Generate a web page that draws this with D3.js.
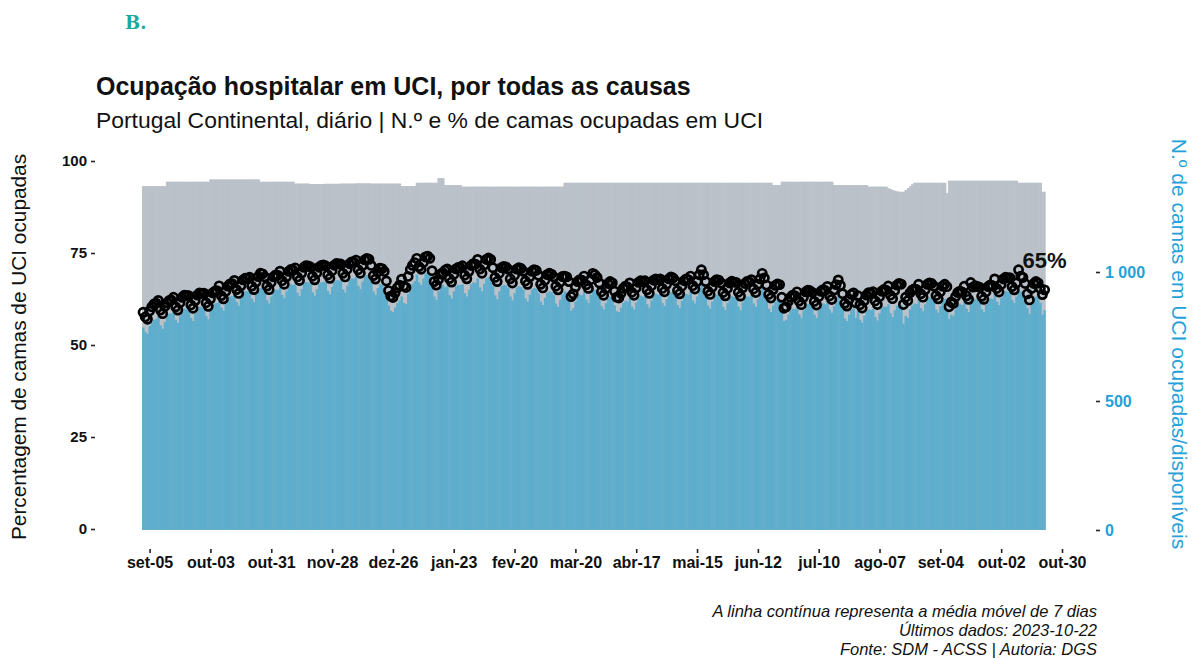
<!DOCTYPE html>
<html>
<head>
<meta charset="utf-8">
<title>Ocupação hospitalar em UCI</title>
<script src="https://d3js.org/d3.v7.min.js"></script>
<style>
  body { margin: 0; background: #fff; }
  svg { display: block; font-family: "Liberation Sans", Arial, sans-serif; }
</style>
</head>
<body>
<svg width="1192" height="659"></svg>
<script>
// dias com dados (um valor por dia, de 2022-09-02 a 2023-10-22)
const dataInicio = "2022-09-02";
const dataFim = "2023-10-22";

// n.º de camas UCI ocupadas (barras azuis), linhas de 7 dias a começar a sexta
const camasOcupadas = [
  785, 768, 760, 790, 805, 815, 818,
  828, 793, 780, 806, 830, 838, 840,
  850, 815, 803, 830, 850, 858, 857,
  856, 822, 810, 838, 858, 866, 864,
  865, 830, 817, 850, 872, 878, 880,
  898, 862, 850, 877, 897, 905, 906,
  918, 884, 870, 898, 920, 926, 925,
  930, 897, 884, 912, 932, 938, 936,
  925, 891, 878, 905, 925, 932, 931,
  946, 911, 898, 925, 945, 952, 950,
  953, 920, 907, 934, 955, 961, 960,
  955, 921, 908, 933, 954, 960, 962,
  960, 927, 914, 942, 962, 968, 967,
  967, 933, 920, 948, 968, 975, 974,
  982, 947, 934, 962, 983, 988, 985,
  962, 925, 912, 938, 952, 950, 940,
  905, 870, 850, 845, 862, 880, 890,
  905, 880, 875, 915, 940, 955, 965,
  990, 960, 950, 975, 995, 998, 990,
  945, 905, 892, 925, 945, 950, 940,
  945, 910, 897, 925, 945, 950, 950,
  952, 918, 905, 932, 953, 960, 958,
  975, 940, 925, 955, 975, 980, 975,
  945, 910, 895, 925, 945, 950, 948,
  940, 905, 890, 918, 940, 945, 942,
  932, 897, 885, 912, 932, 938, 935,
  918, 885, 872, 900, 920, 925, 922,
  912, 878, 865, 893, 913, 925, 922,
  905, 850, 860, 885, 905, 912, 910,
  925, 893, 880, 912, 935, 930, 920,
  900, 868, 855, 880, 898, 905, 900,
  870, 848, 845, 862, 880, 888, 885,
  900, 866, 855, 882, 902, 908, 905,
  908, 875, 862, 890, 910, 915, 912,
  915, 880, 868, 895, 915, 922, 918,
  908, 872, 860, 888, 908, 915, 912,
  925, 890, 878, 905, 930, 948, 930,
  905, 870, 858, 885, 905, 912, 910,
  900, 865, 853, 880, 900, 906, 903,
  902, 866, 852, 882, 898, 905, 904,
  912, 878, 865, 895, 915, 935, 918,
  892, 858, 845, 870, 885, 890, 888,
  850, 810, 815, 835, 850, 858, 856,
  870, 836, 823, 850, 870, 876, 874,
  868, 835, 822, 852, 872, 878, 875,
  890, 855, 842, 868, 888, 905, 885,
  855, 820, 810, 835, 852, 858, 822,
  848, 815, 803, 830, 850, 855, 852,
  858, 825, 812, 840, 860, 866, 864,
  875, 840, 825, 852, 870, 875, 872,
  800, 830, 822, 855, 870, 878, 876,
  895, 860, 848, 875, 895, 900, 898,
  888, 854, 842, 868, 888, 895, 860,
  818, 835, 830, 855, 870, 875, 872,
  893, 858, 845, 907, 890, 895, 892,
  890, 856, 845, 872, 892, 898, 895,
  920, 885, 872, 900, 920, 926, 924,
  925, 892, 880, 905, 948, 925, 920,
  898, 860, 838, 880, 898, 905, 900,
  880, 835, 852
];

// n.º de camas UCI disponíveis (barras cinzentas)
const camasDisponiveis = [
  1333, 1333, 1333, 1333, 1333, 1333, 1333,
  1333, 1333, 1333, 1333, 1350, 1350, 1350,
  1350, 1350, 1350, 1350, 1350, 1350, 1350,
  1350, 1350, 1350, 1350, 1350, 1350, 1350,
  1350, 1350, 1350, 1359, 1359, 1359, 1359,
  1359, 1359, 1359, 1359, 1359, 1359, 1359,
  1359, 1359, 1359, 1359, 1359, 1359, 1359,
  1359, 1359, 1359, 1359, 1359, 1350, 1350,
  1350, 1350, 1350, 1350, 1350, 1350, 1350,
  1350, 1350, 1350, 1350, 1350, 1350, 1350,
  1343, 1343, 1343, 1343, 1343, 1343, 1343,
  1341, 1341, 1341, 1341, 1341, 1341, 1341,
  1342, 1342, 1342, 1342, 1342, 1342, 1342,
  1343, 1343, 1343, 1343, 1343, 1343, 1343,
  1344, 1344, 1344, 1344, 1344, 1344, 1344,
  1343, 1343, 1343, 1343, 1343, 1343, 1343,
  1343, 1343, 1343, 1343, 1343, 1343, 1343,
  1333, 1333, 1333, 1333, 1333, 1333, 1333,
  1346, 1346, 1346, 1346, 1346, 1346, 1346,
  1346, 1346, 1346, 1364, 1364, 1364, 1337,
  1337, 1337, 1337, 1337, 1337, 1337, 1337,
  1331, 1331, 1331, 1331, 1331, 1331, 1331,
  1331, 1331, 1331, 1331, 1331, 1331, 1331,
  1331, 1331, 1331, 1331, 1331, 1331, 1331,
  1331, 1331, 1331, 1331, 1331, 1331, 1331,
  1331, 1331, 1331, 1331, 1331, 1331, 1331,
  1331, 1331, 1331, 1331, 1331, 1331, 1331,
  1331, 1331, 1331, 1331, 1331, 1346, 1346,
  1346, 1346, 1346, 1346, 1346, 1346, 1346,
  1346, 1346, 1346, 1346, 1346, 1346, 1346,
  1346, 1346, 1346, 1346, 1346, 1346, 1346,
  1346, 1346, 1346, 1346, 1346, 1346, 1346,
  1346, 1346, 1346, 1346, 1346, 1346, 1346,
  1346, 1346, 1346, 1346, 1346, 1346, 1346,
  1346, 1346, 1346, 1346, 1346, 1346, 1346,
  1346, 1346, 1346, 1346, 1346, 1346, 1346,
  1346, 1346, 1346, 1346, 1346, 1346, 1346,
  1346, 1346, 1346, 1346, 1346, 1346, 1346,
  1346, 1346, 1346, 1346, 1346, 1346, 1346,
  1346, 1346, 1346, 1346, 1346, 1346, 1346,
  1346, 1346, 1346, 1346, 1346, 1346, 1346,
  1346, 1346, 1346, 1337, 1337, 1337, 1337,
  1350, 1350, 1350, 1350, 1350, 1350, 1350,
  1350, 1350, 1350, 1350, 1350, 1350, 1350,
  1350, 1350, 1350, 1350, 1350, 1350, 1350,
  1350, 1350, 1350, 1337, 1337, 1337, 1337,
  1337, 1337, 1337, 1337, 1337, 1337, 1337,
  1337, 1337, 1337, 1337, 1337, 1331, 1331,
  1331, 1331, 1331, 1331, 1331, 1331, 1331,
  1325, 1322, 1318, 1315, 1313, 1311, 1311,
  1311, 1318, 1325, 1332, 1340, 1346, 1346,
  1346, 1346, 1346, 1346, 1346, 1346, 1346,
  1346, 1346, 1346, 1346, 1346, 1346, 1306,
  1354, 1354, 1354, 1354, 1354, 1354, 1354,
  1354, 1354, 1354, 1354, 1354, 1354, 1354,
  1354, 1354, 1354, 1354, 1354, 1354, 1354,
  1354, 1354, 1354, 1354, 1354, 1354, 1354,
  1354, 1354, 1354, 1354, 1346, 1346, 1346,
  1346, 1346, 1346, 1346, 1346, 1346, 1346,
  1346, 1311, 1311
];

const ticksX = ["2022-09-05", "2022-10-03", "2022-10-31", "2022-11-28", "2022-12-26",
  "2023-01-23", "2023-02-20", "2023-03-20", "2023-04-17", "2023-05-15", "2023-06-12",
  "2023-07-10", "2023-08-07", "2023-09-04", "2023-10-02", "2023-10-30"];
const ticksPct = [0, 25, 50, 75, 100];
const ticksCamas = [0, 500, 1000];

const corCinza = "#bac1c9";
const corAzul = "#5eadcc";
const corEixoDir = "#24a1d8";

const svg = d3.select("svg");
const parse = d3.utcParse("%Y-%m-%d");

const pt = d3.timeFormatLocale({
  dateTime: "%A, %e de %B de %Y. %X", date: "%d/%m/%Y", time: "%H:%M:%S",
  periods: ["AM", "PM"],
  days: ["domingo", "segunda", "terça", "quarta", "quinta", "sexta", "sábado"],
  shortDays: ["dom", "seg", "ter", "qua", "qui", "sex", "sáb"],
  months: ["janeiro", "fevereiro", "março", "abril", "maio", "junho", "julho", "agosto", "setembro", "outubro", "novembro", "dezembro"],
  shortMonths: ["jan", "fev", "mar", "abr", "mai", "jun", "jul", "ago", "set", "out", "nov", "dez"]
});
const fmtData = pt.utcFormat("%b-%d");

const dias = d3.utcDay.range(parse(dataInicio), d3.utcDay.offset(parse(dataFim), 1));
const dados = dias.map((d, i) => ({
  data: d,
  ocupadas: camasOcupadas[i],
  disponiveis: camasDisponiveis[i],
  pct: camasOcupadas[i] / camasDisponiveis[i] * 100
}));

// escalas
const x = d3.scaleUtc()
  .domain([parse(ticksX[0]), parse(ticksX[ticksX.length - 1])])
  .range([149.6, 1062]);
const yPct = d3.scaleLinear().domain([0, 100]).range([529, 161]);
const yCamas = d3.scaleLinear().domain([0, 1000]).range([530, 272]);
const larg = x(d3.utcDay.offset(dias[0], 1)) - x(dias[0]);

// barras cinzentas (disponíveis)
svg.append("g").selectAll("rect")
  .data(dados).join("rect")
  .attr("x", d => x(d.data) - larg / 2)
  .attr("width", (d, i) => i === dados.length - 1 ? larg : larg + 0.6)
  .attr("y", d => yCamas(d.disponiveis))
  .attr("height", d => yCamas(0) - yCamas(d.disponiveis))
  .attr("fill", corCinza);

// barras azuis (ocupadas)
svg.append("g").selectAll("rect")
  .data(dados).join("rect")
  .attr("x", d => x(d.data) - larg / 2)
  .attr("width", (d, i) => i === dados.length - 1 ? larg : larg + 0.35)
  .attr("y", d => yCamas(d.ocupadas))
  .attr("height", d => yCamas(0) - yCamas(d.ocupadas))
  .attr("fill", corAzul);

// percentagem diária
svg.append("g").selectAll("circle")
  .data(dados).join("circle")
  .attr("cx", d => x(d.data))
  .attr("cy", d => yPct(d.pct))
  .attr("r", 4.1)
  .attr("fill", "none")
  .attr("stroke", "#000")
  .attr("stroke-width", 2.7);

// último valor
const ultimo = dados[dados.length - 1];
svg.append("text")
  .attr("x", x(ultimo.data) - 22)
  .attr("y", yPct(ultimo.pct) - 22)
  .style("font-size", "22px")
  .style("font-weight", "bold")
  .attr("fill", "#111")
  .text(Math.round(ultimo.pct) + "%");

// eixos
const eixoEsq = svg.append("g")
  .attr("transform", "translate(95,0)")
  .call(d3.axisLeft(yPct).tickValues(ticksPct).tickSize(4).tickPadding(4));
const eixoDir = svg.append("g")
  .attr("transform", "translate(1096,0)")
  .call(d3.axisRight(yCamas).tickValues(ticksCamas).tickSize(4).tickPadding(5)
    .tickFormat(d => d3.format(",")(d).replace(",", " ")));
const eixoX = svg.append("g")
  .attr("transform", "translate(0,549)")
  .call(d3.axisBottom(x).tickValues(ticksX.map(parse)).tickSize(4).tickPadding(4)
    .tickFormat(fmtData));

[eixoEsq, eixoDir, eixoX].forEach(g => {
  g.select(".domain").remove();
  g.selectAll(".tick line").attr("stroke", "#222").attr("stroke-width", 1.6);
  g.selectAll(".tick text")
    .style("font-family", "'Liberation Sans', Arial, sans-serif")
    .style("font-size", "16px")
    .style("font-weight", "bold")
    .attr("fill", "#111");
});
eixoEsq.selectAll(".tick text").style("font-size", "15px");
eixoDir.selectAll(".tick text").attr("fill", corEixoDir);

// títulos
svg.append("text")
  .attr("x", 125).attr("y", 29)
  .style("font-family", "'DejaVu Serif', serif")
  .style("font-size", "18px")
  .style("font-weight", "bold")
  .attr("fill", "#1aa99a")
  .text("B.");

svg.append("text")
  .attr("x", 96).attr("y", 95)
  .style("font-size", "25px")
  .style("font-weight", "bold")
  .attr("fill", "#111")
  .text("Ocupação hospitalar em UCI, por todas as causas");

svg.append("text")
  .attr("x", 96).attr("y", 128)
  .style("font-size", "22.9px")
  .attr("fill", "#111")
  .text("Portugal Continental, diário | N.º e % de camas ocupadas em UCI");

svg.append("text")
  .attr("transform", "translate(26,347) rotate(-90)")
  .attr("text-anchor", "middle")
  .style("font-size", "20.8px")
  .attr("fill", "#111")
  .text("Percentagem de camas de UCI ocupadas");

svg.append("text")
  .attr("transform", "translate(1172,344) rotate(90)")
  .attr("text-anchor", "middle")
  .style("font-size", "21px")
  .attr("fill", corEixoDir)
  .text("N.º de camas em UCI ocupadas/disponíveis");

// nota de rodapé
const notas = ["A linha contínua representa a média móvel de 7 dias",
  "Últimos dados: 2023-10-22",
  "Fonte: SDM - ACSS | Autoria: DGS"];
svg.append("g").selectAll("text")
  .data(notas).join("text")
  .attr("x", 1097)
  .attr("y", (d, i) => 617 + i * 19.2)
  .attr("text-anchor", "end")
  .style("font-size", "16.5px")
  .style("font-style", "italic")
  .attr("fill", "#111")
  .text(d => d);
</script>
</body>
</html>
